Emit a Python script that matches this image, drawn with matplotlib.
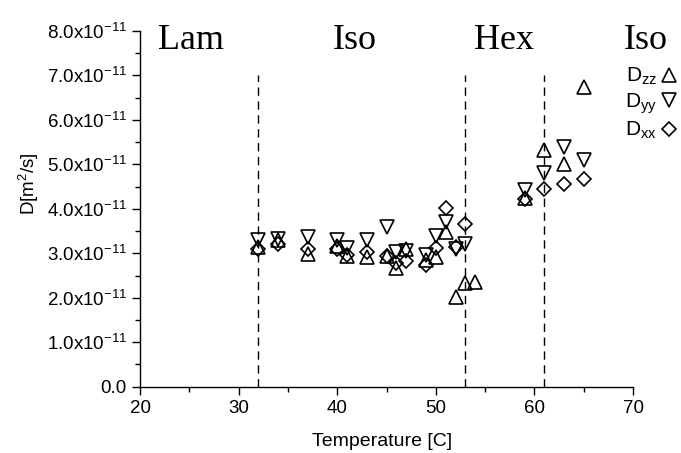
"""Diffusion coefficients vs temperature across phase regions."""

import matplotlib

matplotlib.use("Agg")
import matplotlib.pyplot as plt
import numpy as np
from matplotlib.lines import Line2D
from matplotlib.ticker import FuncFormatter, MultipleLocator

# temperatures [C] and diffusion coefficients in units of 1e-11 m^2/s
temp = [32, 34, 37, 40, 41, 43, 45, 46, 47, 49, 50, 51, 52, 53, 59, 61, 63, 65]
d_zz = [3.14, 3.30, 2.98, 3.16, 2.93, 2.92, 2.95, 2.66, 3.10, 2.85, 2.92, 3.47,
        2.02, 2.33, 4.25, 5.33, 5.00, 6.75]
d_yy = [3.30, 3.33, 3.36, 3.30, 3.12, 3.30, 3.60, 3.03, 3.05, 2.96, 3.40, 3.70,
        3.10, 3.22, 4.42, 4.80, 5.39, 5.10]
d_xx = [3.10, 3.22, 3.09, 3.10, 2.96, 3.02, 2.93, 2.78, 2.83, 2.73, 3.12, 4.01,
        3.14, 3.67, 4.22, 4.44, 4.55, 4.67]
# one extra D_zz point with no partner
temp_zz_extra = [54]
d_zz_extra = [2.36]

boundaries = [32, 53, 61]
phases = ["Lam", "Iso", "Hex", "Iso"]
phase_x = [25.2, 41.8, 56.9, 71.3]

SCALE = 1e-11

plt.rcParams["font.family"] = ["Liberation Sans", "DejaVu Sans"]
plt.rcParams["mathtext.default"] = "regular"

fig = plt.figure(figsize=(6.81, 4.53), dpi=100)
ax = fig.add_axes([0.2056, 0.1464, 0.724, 0.7852])

mk = dict(linestyle="none", markerfacecolor="none", markeredgecolor="black",
          markeredgewidth=1.2, clip_on=False)
t = np.array(temp)
ax.plot(t, np.array(d_zz) * SCALE, marker="^", markersize=10, **mk)
ax.plot(temp_zz_extra, np.array(d_zz_extra) * SCALE, marker="^", markersize=10, **mk)
ax.plot(t, np.array(d_yy) * SCALE, marker="v", markersize=10, **mk)
ax.plot(t, np.array(d_xx) * SCALE, marker="D", markersize=7.5, **mk)

for b in boundaries:
    ax.plot([b, b], [0, 7.0 * SCALE], color="black", linestyle=(0, (6, 4)),
            linewidth=1.0)

for name, x in zip(phases, phase_x):
    ax.text(x, 7.6 * SCALE, name, ha="center", va="baseline",
            family="Liberation Serif", fontsize=26, clip_on=False)

ax.set_xlim(20, 70)
ax.set_ylim(0, 8.0 * SCALE)
ax.xaxis.set_major_locator(MultipleLocator(10))
ax.xaxis.set_minor_locator(MultipleLocator(5))
ax.yaxis.set_major_locator(MultipleLocator(1.0 * SCALE))
ax.yaxis.set_minor_locator(MultipleLocator(0.5 * SCALE))


def fmt(v, pos):
    m = v / SCALE
    if abs(m) < 1e-9:
        return "0.0"
    return f"{m:.1f}x10$^{{-11}}$"


ax.yaxis.set_major_formatter(FuncFormatter(fmt))
for side in ("top", "right"):
    ax.spines[side].set_visible(False)
for side in ("left", "bottom"):
    ax.spines[side].set_linewidth(1.0)
ax.tick_params(which="major", length=6, width=1.0, labelsize=13.5)
ax.tick_params(which="minor", length=3.5, width=1.0)

ax.set_xlabel("Temperature [C]", fontsize=14)
ax.xaxis.set_label_coords(0.49, -0.13)
ax.set_ylabel("D[m$^2$/s]", fontsize=13.5)
ax.yaxis.set_label_coords(-0.20, 0.57)

handles = [
    Line2D([], [], marker="^", markersize=10, **mk),
    Line2D([], [], marker="v", markersize=10, **mk),
    Line2D([], [], marker="D", markersize=7.5, **mk),
]
fig.legend(handles, ["D$_{zz}$", "D$_{yy}$", "D$_{xx}$"],
           loc="upper left", bbox_to_anchor=(625 / 681, 1 - 66 / 453),
           frameon=False, markerfirst=False, fontsize=15, handlelength=0.8,
           handletextpad=0.2, borderpad=0, borderaxespad=0, labelspacing=0.2)

fig.savefig("out.png", dpi=100)
